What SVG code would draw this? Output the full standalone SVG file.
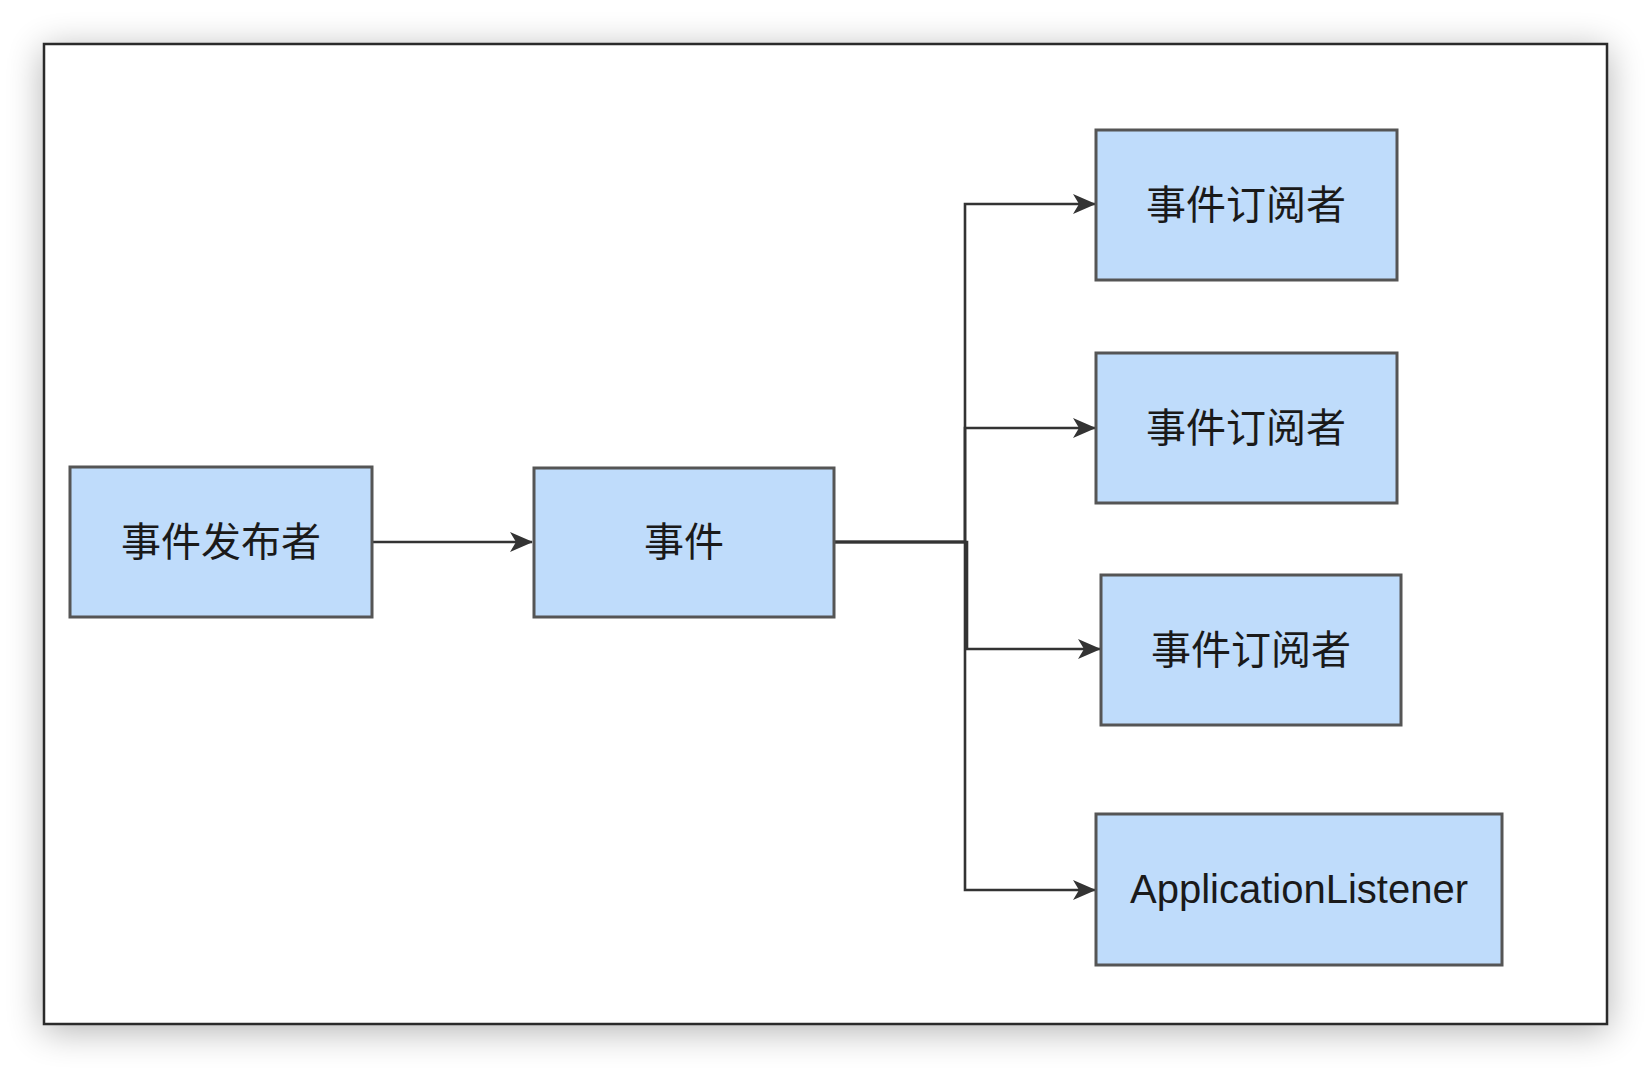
<svg xmlns="http://www.w3.org/2000/svg" width="1652" height="1070" viewBox="0 0 1652 1070">
<defs>
<filter id="sh" x="-10%" y="-10%" width="120%" height="125%">
<feGaussianBlur in="SourceAlpha" stdDeviation="18"/>
<feOffset dy="6" result="b"/>
<feComponentTransfer><feFuncA type="linear" slope="0.3"/></feComponentTransfer>
<feMerge><feMergeNode/><feMergeNode in="SourceGraphic"/></feMerge>
</filter>
<marker id="ah" viewBox="0 0 23 22" refX="22" refY="11" markerWidth="23" markerHeight="22" markerUnits="userSpaceOnUse" orient="auto">
<path d="M0,1 L23,11 L0,21 L6,11 Z" fill="#333"/>
</marker>
</defs>
<style>
.box{fill:#bfdcfb;stroke:#555;stroke-width:3}
.t{font-family:"Noto Sans CJK SC","Liberation Sans",sans-serif;font-size:40px;fill:#1a1a1a;text-anchor:middle}
.tl{font-family:"Liberation Sans",Arial,sans-serif;font-size:40px;fill:#1a1a1a;text-anchor:middle}
.c{fill:none;stroke:#333;stroke-width:2.6}
</style>
<rect width="1652" height="1070" fill="#fff"/>
<rect x="44" y="44" width="1563" height="980" fill="#fff" stroke="#2b2b2b" stroke-width="2.5" filter="url(#sh)"/>
<g id="connectors">
<path class="c" d="M372,542 L532,542" marker-end="url(#ah)"/>
<path class="c" d="M834,542 L965,542 L965,204 L1095,204" marker-end="url(#ah)"/>
<path class="c" d="M834,542 L965,542 L965,428 L1095,428" marker-end="url(#ah)"/>
<path class="c" d="M834,542 L967,542 L967,649 L1100,649" marker-end="url(#ah)"/>
<path class="c" d="M834,542 L965,542 L965,890 L1095,890" marker-end="url(#ah)"/>
</g>
<g id="publisher"><rect class="box" x="70" y="467" width="302" height="150"/><text class="t" x="221" y="556">事件发布者</text></g>
<g id="event"><rect class="box" x="534" y="468" width="300" height="149"/><text class="t" x="684" y="556">事件</text></g>
<g id="sub1"><rect class="box" x="1096" y="130" width="301" height="150"/><text class="t" x="1246" y="219">事件订阅者</text></g>
<g id="sub2"><rect class="box" x="1096" y="353" width="301" height="150"/><text class="t" x="1246" y="442">事件订阅者</text></g>
<g id="sub3"><rect class="box" x="1101" y="575" width="300" height="150"/><text class="t" x="1251" y="664">事件订阅者</text></g>
<g id="listener"><rect class="box" x="1096" y="814" width="406" height="151"/><text class="tl" x="1299" y="903">ApplicationListener</text></g>
</svg>
